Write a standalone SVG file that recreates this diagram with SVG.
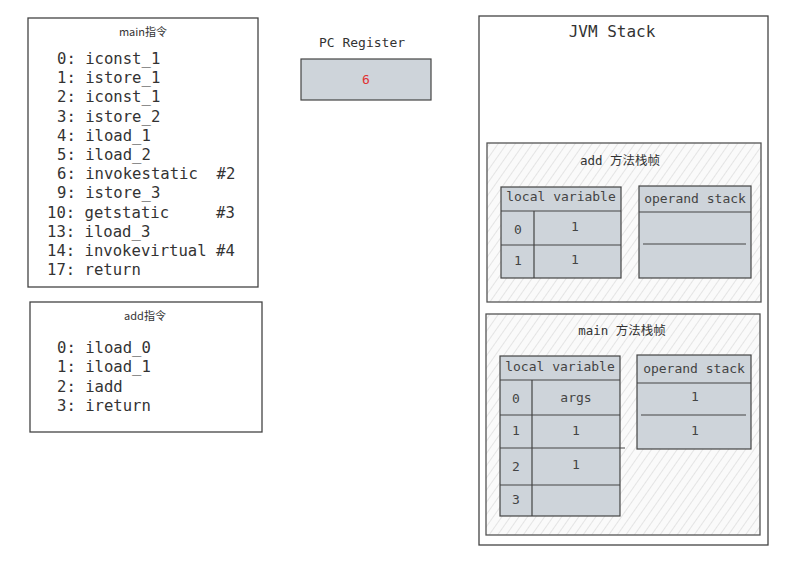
<svg xmlns="http://www.w3.org/2000/svg" width="802" height="571" viewBox="0 0 802 571">
<style>
.box{fill:none;stroke:#444;stroke-width:1.3}
.cell{fill:#ced4da;stroke:#444;stroke-width:1.2}
.ln{stroke:#444;stroke-width:1.2;fill:none}
.code{font-family:"DejaVu Sans Mono","Liberation Mono",monospace;font-size:15.6px;fill:#333;white-space:pre}
.t{font-family:"DejaVu Sans Mono","Liberation Mono",monospace;font-size:13px;fill:#444;text-anchor:middle}
.ttl{font-family:"DejaVu Sans Mono","Noto Sans CJK SC",monospace;font-size:12.5px;fill:#333;text-anchor:middle}
.hand{font-family:"Noto Sans CJK SC","DejaVu Sans",sans-serif;font-size:11px;fill:#333;text-anchor:middle}
.frame{fill:url(#hatch);stroke:#555;stroke-width:1.3}
</style>
<defs>
<pattern id="hatch" patternUnits="userSpaceOnUse" width="7" height="7" patternTransform="rotate(35)">
<rect width="7" height="7" fill="#fafafa"/>
<line x1="0" y1="0" x2="0" y2="7" stroke="#cfcfcf" stroke-width="1"/>
</pattern>
</defs>
<rect width="802" height="571" fill="#fff"/>

<g id="main-code">
<rect class="box" x="28" y="18" width="230" height="269"/>
<text class="hand" x="143" y="36">main指令</text>
<text class="code" y="64"><tspan x="57">0: iconst_1</tspan><tspan x="57" dy="19.2">1: istore_1</tspan><tspan x="57" dy="19.2">2: iconst_1</tspan><tspan x="57" dy="19.2">3: istore_2</tspan><tspan x="57" dy="19.2">4: iload_1</tspan><tspan x="57" dy="19.2">5: iload_2</tspan><tspan x="57" dy="19.2">6: invokestatic  #2</tspan><tspan x="57" dy="19.2">9: istore_3</tspan><tspan x="47" dy="19.2">10: getstatic     #3</tspan><tspan x="47" dy="19.2">13: iload_3</tspan><tspan x="47" dy="19.2">14: invokevirtual #4</tspan><tspan x="47" dy="19.2">17: return</tspan></text>
</g>

<g id="add-code">
<rect class="box" x="30" y="302" width="232" height="130"/>
<text class="hand" x="145" y="320">add指令</text>
<text class="code" y="353"><tspan x="57">0: iload_0</tspan><tspan x="57" dy="19.3">1: iload_1</tspan><tspan x="57" dy="19.3">2: iadd</tspan><tspan x="57" dy="19.3">3: ireturn</tspan></text>
</g>

<g id="pc-register">
<text class="t" x="362" y="47" style="fill:#333">PC Register</text>
<rect class="cell" x="301" y="59" width="130" height="41"/>
<text class="t" x="366" y="84" style="fill:#e03131">6</text>
</g>

<g id="jvm-stack">
<rect class="box" x="479" y="16" width="289" height="529"/>
<text class="t" x="612" y="37" style="font-size:16px;fill:#333">JVM Stack</text>
</g>

<g id="add-frame">
<rect class="frame" x="487" y="143" width="274" height="159"/>
<text class="ttl" x="620" y="165">add 方法栈帧</text>
<rect class="cell" x="501" y="187" width="120" height="91"/>
<line class="ln" x1="501" y1="211" x2="621" y2="211"/>
<line class="ln" x1="501" y1="245" x2="621" y2="245"/>
<line class="ln" x1="534" y1="211" x2="534" y2="278"/>
<text class="t" x="561" y="201">local variable</text>
<text class="t" x="518" y="234">0</text>
<text class="t" x="575" y="231">1</text>
<text class="t" x="518" y="265">1</text>
<text class="t" x="575" y="264">1</text>
<rect class="cell" x="639" y="186" width="112" height="92"/>
<line class="ln" x1="639" y1="212" x2="751" y2="212"/>
<line class="ln" x1="643" y1="244" x2="746" y2="244"/>
<text class="t" x="695" y="203">operand stack</text>
</g>

<g id="main-frame">
<rect class="frame" x="486" y="314" width="274" height="221"/>
<text class="ttl" x="622" y="335">main 方法栈帧</text>
<rect class="cell" x="500" y="356" width="120" height="160"/>
<line class="ln" x1="500" y1="380" x2="620" y2="380"/>
<line class="ln" x1="500" y1="415" x2="620" y2="415"/>
<line class="ln" x1="500" y1="448" x2="625" y2="448"/>
<line class="ln" x1="500" y1="485" x2="620" y2="485"/>
<line class="ln" x1="532" y1="380" x2="532" y2="516"/>
<text class="t" x="560" y="371">local variable</text>
<text class="t" x="516" y="403">0</text>
<text class="t" x="576" y="402">args</text>
<text class="t" x="516" y="435">1</text>
<text class="t" x="576" y="435">1</text>
<text class="t" x="516" y="471">2</text>
<text class="t" x="576" y="469">1</text>
<text class="t" x="516" y="504">3</text>
<rect class="cell" x="637" y="355" width="114" height="94"/>
<line class="ln" x1="637" y1="383" x2="751" y2="383"/>
<line class="ln" x1="641" y1="415" x2="746" y2="415"/>
<text class="t" x="694" y="373">operand stack</text>
<text class="t" x="695" y="401">1</text>
<text class="t" x="695" y="435">1</text>
</g>
</svg>
